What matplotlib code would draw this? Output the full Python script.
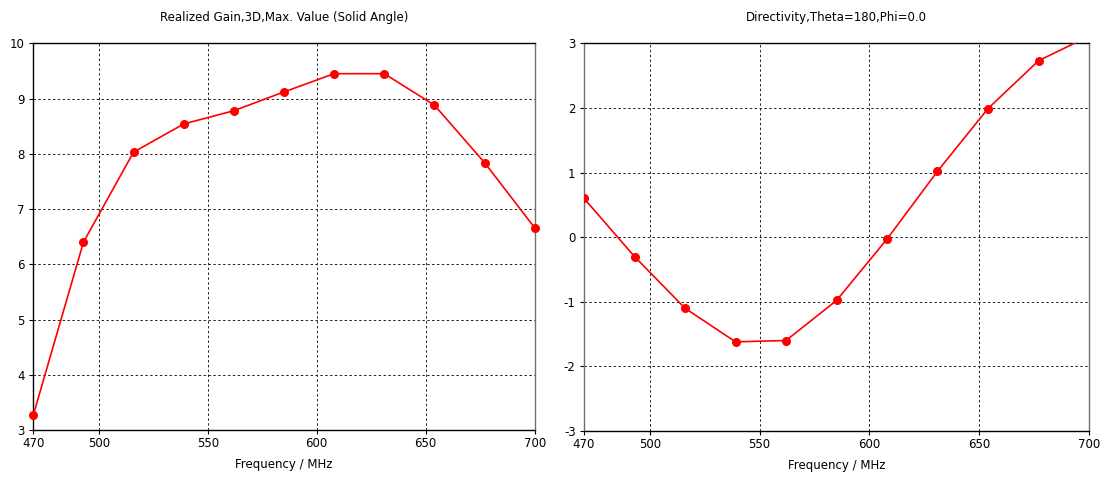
import matplotlib.pyplot as plt
from matplotlib.ticker import FixedLocator

# pip install matplotlib

freq = [470, 493, 516, 539, 562, 585, 608, 631, 654, 677, 700]
gain = [3.27, 6.40, 8.03, 8.54, 8.78, 9.12, 9.45, 9.45, 8.88, 7.84, 6.66]
directivity = [0.60, -0.30, -1.10, -1.62, -1.60, -0.98, -0.03, 1.02, 1.99, 2.73, 3.11]

x_ticks = [470, 500, 550, 600, 650, 700]
titles = ["Realized Gain,3D,Max. Value (Solid Angle)",
          "Directivity,Theta=180,Phi=0.0"]
x_label = "Frequency / MHz"

plt.rcParams["font.family"] = "DejaVu Sans"
plt.rcParams["axes.unicode_minus"] = False


def style_axes(ax, title, ylim, yticks, left_color):
    """Give an axes the CST-like look"""
    ax.set_xlim(470, 700)
    ax.set_ylim(*ylim)
    ax.xaxis.set_major_locator(FixedLocator(x_ticks))
    ax.yaxis.set_major_locator(FixedLocator(yticks))
    ax.grid(True, color="#222222", linestyle=(0, (2.5, 2.5)), linewidth=0.7)
    ax.tick_params(direction="out", length=3, width=0.8, labelsize=8.5,
                   colors="black", pad=2)
    ax.tick_params(axis="y", pad=3)
    ax.set_title(title, fontsize=8.5, pad=16)
    ax.set_xlabel(x_label, fontsize=8.5, labelpad=6)
    for side in ["top", "bottom"]:
        ax.spines[side].set_color("black")
        ax.spines[side].set_linewidth(1.0)
    ax.spines["left"].set_color(left_color)
    ax.spines["right"].set_color("#707070")
    ax.spines["left"].set_linewidth(1.0)
    ax.spines["right"].set_linewidth(1.0)


def main():
    fig = plt.figure(figsize=(11.08, 4.78), dpi=100)
    ax1 = fig.add_axes([33.3 / 1108, 1 - 430 / 478, 501.4 / 1108, 386.7 / 478])
    ax2 = fig.add_axes([584 / 1108, 1 - 431 / 478, 505 / 1108, 387.7 / 478])

    ax1.plot(freq, gain, color="red", linewidth=1.2, marker="o",
             markersize=5.5, zorder=3, clip_on=False)
    style_axes(ax1, titles[0], (3, 10), range(3, 11), "black")

    ax2.plot(freq, directivity, color="red", linewidth=1.2, marker="o",
             markersize=5.5, zorder=3)
    style_axes(ax2, titles[1], (-3, 3), range(-3, 4), "#707070")

    fig.savefig("out.png", dpi=100)


if __name__ == "__main__":
    main()
